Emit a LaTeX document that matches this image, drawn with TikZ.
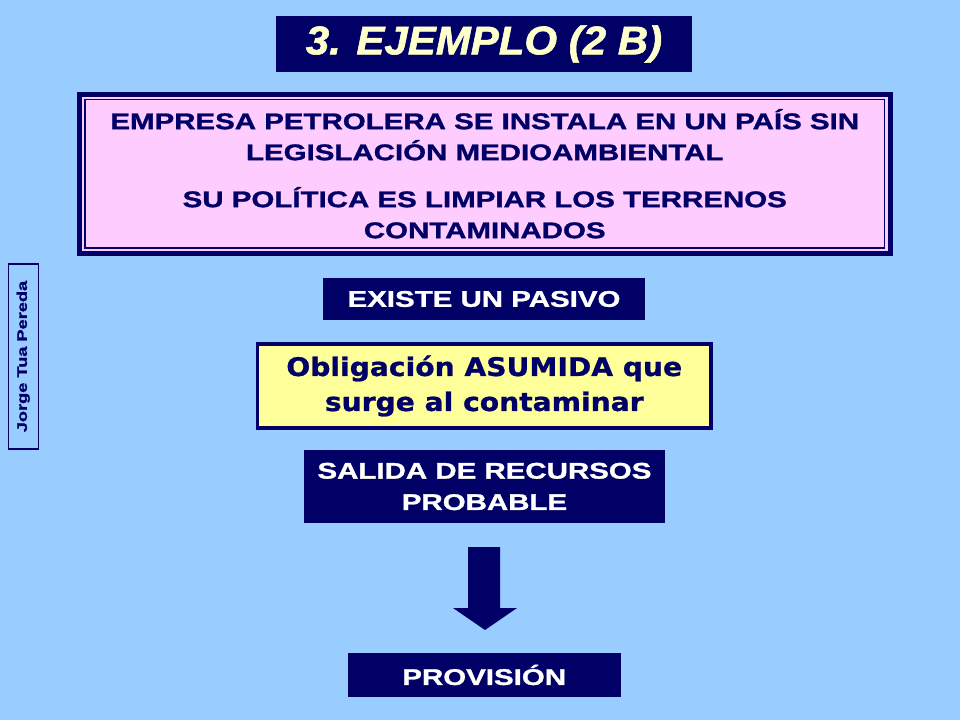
\documentclass[tikz,border=0pt]{standalone}
\usepackage{fontspec}
\usepackage{tikz}
\newfontfamily\slidefont[FakeStretch=1.3, BoldFeatures={FakeBold=1.3}]{Liberation Sans}
\newfontfamily\headfont[FakeStretch=1.05, BoldItalicFeatures={FakeBold=1.5}]{Liberation Sans}
\newfontfamily\verdfont[FakeStretch=1.1, BoldFeatures={FakeBold=1}]{DejaVu Sans}
\definecolor{slidebg}{HTML}{99CCFF}
\definecolor{navy}{HTML}{000066}
\definecolor{rosa}{HTML}{FFCCFF}
\definecolor{amarillo}{HTML}{FFFF99}
\definecolor{crema}{HTML}{FFFFCC}

\begin{document}
\begin{tikzpicture}[x=0.75pt, y=-0.75pt,
    darkbox/.style={rectangle, fill=navy, text=white, align=center, inner sep=0pt, outer sep=0pt,
      font=\slidefont\bfseries\fontsize{17}{23.5}\selectfont}]
  \fill [slidebg] (0,0) rectangle (960,720);
  \useasboundingbox (0,0) rectangle (960,720);

  \node [darkbox, minimum width=312pt, minimum height=42pt, text=crema,
    font=\headfont\bfseries\itshape\fontsize{30}{36}\selectfont] (title) at (484,44) {3. EJEMPLO (2 B)};

  \node [rectangle, draw=navy, line width=3.75pt, fill=rosa, text=navy, align=center, outer sep=0pt,
    minimum width=607.9pt, minimum height=119.6pt,
    font=\slidefont\bfseries\fontsize{17}{23.25}\selectfont] (empresa) at (484.75,173.75)
    {EMPRESA PETROLERA SE INSTALA EN UN PAÍS SIN\\ LEGISLACIÓN MEDIOAMBIENTAL\\[12pt]
     SU POLÍTICA ES LIMPIAR LOS TERRENOS\\ CONTAMINADOS};
  \draw [navy, line width=1.3pt] ([shift={(5.5,5.5)}]empresa.north west) rectangle ([shift={(-5.5,-5.5)}]empresa.south east);

  \node [darkbox, minimum width=241.5pt, minimum height=31.5pt] (pasivo) at (484,299) {EXISTE UN PASIVO};

  \node [rectangle, draw=navy, line width=2.6pt, fill=amarillo, text=navy, align=center, outer sep=0pt,
    minimum width=340pt, minimum height=63pt,
    font=\verdfont\bfseries\fontsize{19.2}{26.25}\selectfont] (obligacion) at (484.25,386)
    {Obligación ASUMIDA que\\ surge al contaminar};

  \node [darkbox, minimum width=270.75pt, minimum height=54.75pt] (salida) at (484.5,486.5)
    {SALIDA DE RECURSOS\\ PROBABLE};

  % flecha
  \fill [navy] (468,547) -- (500,547) -- (500,608) -- (517,608) -- (485,630) -- (453,608) -- (468,608) -- cycle;

  \node [darkbox, minimum width=205pt, minimum height=32.5pt] (provision) at (484.2,675) {PROVISIÓN};

  \node [rectangle, draw=navy, line width=0.8pt, rotate=90, text=navy, inner sep=0pt,
    minimum width=138.75pt, minimum height=22.5pt,
    font=\slidefont\bfseries\fontsize{10.5}{12}\selectfont] (autor) at (23.3,356.5) {Jorge Tua Pereda};
\end{tikzpicture}
\end{document}
